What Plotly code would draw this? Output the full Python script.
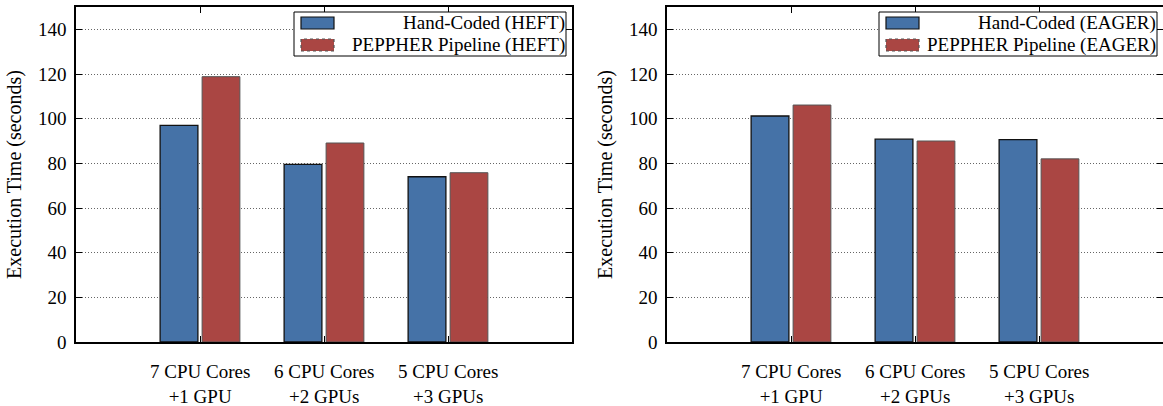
import plotly.graph_objects as go

# ---- data ----
categories = ["7 CPU Cores +1 GPU", "6 CPU Cores +2 GPUs", "5 CPU Cores +3 GPUs"]
cat_line1 = ["7 CPU Cores", "6 CPU Cores", "5 CPU Cores"]
cat_line2 = ["+1 GPU", "+2 GPUs", "+3 GPUs"]
heft_hand = [97, 79.5, 74]
heft_pepp = [118.8, 89.1, 75.8]
eager_hand = [101.2, 90.8, 90.6]
eager_pepp = [106.1, 90.0, 82.0]
y_ticks = [0, 20, 40, 60, 80, 100, 120, 140]
legend_left = ["Hand-Coded (HEFT)", "PEPPHER Pipeline (HEFT)"]
legend_right = ["Hand-Coded (EAGER)", "PEPPHER Pipeline (EAGER)"]

W, H = 1163, 406
BLUE, RED = "#4572A7", "#AA4643"
FONT = "Liberation Serif, Times New Roman, Times, Nimbus Roman, DejaVu Serif, serif"

def px(x):
    return x / W

def py(y):
    return 1 - y / H

fig = go.Figure()
fig.add_trace(go.Bar(x=categories, y=heft_hand, marker=dict(color=BLUE, line=dict(color="#111", width=1.3)),
                     xaxis="x", yaxis="y", showlegend=False))
fig.add_trace(go.Bar(x=categories, y=heft_pepp, marker=dict(color=RED, line=dict(color="#555", width=1)),
                     xaxis="x", yaxis="y", showlegend=False))
fig.add_trace(go.Bar(x=categories, y=eager_hand, marker=dict(color=BLUE, line=dict(color="#111", width=1.3)),
                     xaxis="x2", yaxis="y2", showlegend=False))
fig.add_trace(go.Bar(x=categories, y=eager_pepp, marker=dict(color=RED, line=dict(color="#555", width=1)),
                     xaxis="x2", yaxis="y2", showlegend=False))

ydom = [py(342), py(7)]
xcommon = dict(type="category", range=[-1, 3], showline=True, linecolor="black", linewidth=1.5,
               mirror="ticks", ticks="inside", ticklen=6, tickcolor="black", showgrid=False, automargin=False,
               showticklabels=False)
ycommon = dict(range=[0, 150], tickvals=y_ticks, showline=True, linecolor="black", linewidth=1.5,
               mirror="ticks", ticks="inside", ticklen=6, tickcolor="black", automargin=False,
               showgrid=True, gridcolor="#666", griddash="1px,2px", gridwidth=1, zeroline=False,
               tickfont=dict(family=FONT, size=19, color="black"), ticklabelstandoff=4,
               title=dict(text="Execution Time (seconds)", font=dict(family=FONT, size=20, color="black"), standoff=11))

fig.update_layout(
    width=W, height=H, margin=dict(l=0, r=0, t=0, b=0, autoexpand=False),
    paper_bgcolor="white", plot_bgcolor="white",
    barmode="group", bargap=0.323, bargroupgap=0.1,
    xaxis=dict(domain=[px(76), px(572)], anchor="y", **xcommon),
    yaxis=dict(domain=ydom, anchor="x", **ycommon),
    xaxis2=dict(domain=[px(667), 1.0], anchor="y2", **xcommon),
    yaxis2=dict(domain=ydom, anchor="x2", **ycommon),
)

shapes = []
annotations = []
for xr in ["x", "x2"]:
    for cat, l1, l2 in zip(categories, cat_line1, cat_line2):
        annotations.append(dict(xref=xr, yref="paper", x=cat, y=py(384), text=l1 + "<br>" + l2,
                                showarrow=False, xanchor="center", yanchor="middle", align="center",
                                font=dict(family=FONT, size=19, color="black")))

for (bx0, bx1, labels) in [(294, 566, legend_left), (879, 1157, legend_right)]:
    shapes.append(dict(type="rect", xref="paper", yref="paper", x0=px(bx0), x1=px(bx1), y0=py(56), y1=py(12),
                       line=dict(color="black", width=1), fillcolor="white", layer="above"))
    sx0 = bx0 + 7
    for i, (lab, col, lc) in enumerate(zip(labels, [BLUE, RED], ["#111", "#555"])):
        ty0 = 17 + i * 22
        shapes.append(dict(type="rect", xref="paper", yref="paper", x0=px(sx0), x1=px(sx0 + 33),
                           y0=py(ty0 + 12), y1=py(ty0), fillcolor=col,
                           line=dict(color=lc, width=1.2, dash="solid" if i == 0 else "dot"), layer="above"))
        annotations.append(dict(xref="paper", yref="paper", x=px(bx1 + 1), y=py(ty0 + 6), text=lab,
                                showarrow=False, xanchor="right", yanchor="middle",
                                font=dict(family=FONT, size=19, color="black")))

fig.update_layout(shapes=shapes, annotations=annotations)
fig.write_html("out.html")
